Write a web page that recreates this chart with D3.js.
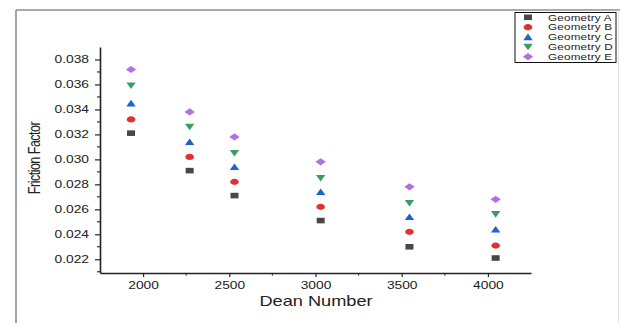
<!DOCTYPE html>
<html>
<head>
<meta charset="utf-8">
<script src="https://cdn.jsdelivr.net/npm/d3@7"></script>
<style>
  body { margin: 0; background: #fff; }
  svg { display: block; }
</style>
</head>
<body>
<svg id="chart" width="620" height="323"></svg>
<script>
// Friction factor against Dean number for five coil geometries
const deanNumbers = [1930, 2270, 2530, 3030, 3545, 4045];
const geometryA = [0.0321, 0.0291, 0.0271, 0.0251, 0.0230, 0.0221];
const geometryB = [0.0332, 0.0302, 0.0282, 0.0262, 0.0242, 0.0231];
const geometryC = [0.0345, 0.0314, 0.0294, 0.0274, 0.0254, 0.0244];
const geometryD = [0.0359, 0.0326, 0.0305, 0.0285, 0.0265, 0.0256];
const geometryE = [0.0372, 0.0338, 0.0318, 0.0298, 0.0278, 0.0268];
const seriesNames = ["Geometry A", "Geometry B", "Geometry C", "Geometry D", "Geometry E"];
const xTicks = [2000, 2500, 3000, 3500, 4000];
const xMinorTicks = [2250, 2750, 3250, 3750];
const yTicks = [0.022, 0.024, 0.026, 0.028, 0.030, 0.032, 0.034, 0.036, 0.038];
const yMinorTicks = [0.021, 0.023, 0.025, 0.027, 0.029, 0.031, 0.033, 0.035, 0.037];

const seriesValues = [geometryA, geometryB, geometryC, geometryD, geometryE];
const colors = ["#474747", "#e3302f", "#1d63cf", "#3a9e63", "#b172df"];
const shapes = ["square", "circle", "triangleUp", "triangleDown", "diamond"];

const FONT = "'Liberation Sans', Arial, sans-serif";
const SX = 1.3;             // horizontal widening applied to all lettering
const INK = "#222";

const svg = d3.select("#chart");
svg.append("rect").attr("width", 620).attr("height", 323).attr("fill", "#fff");

// page frame
svg.append("line").attr("x1", 16).attr("x2", 620).attr("y1", 10).attr("y2", 10)
  .attr("stroke", "#8e8e8e").attr("stroke-width", 1.6);
svg.append("line").attr("x1", 16).attr("x2", 16).attr("y1", 10).attr("y2", 323)
  .attr("stroke", "#8e8e8e").attr("stroke-width", 1.6);
svg.append("line").attr("x1", 618.5).attr("x2", 618.5).attr("y1", 10).attr("y2", 323)
  .attr("stroke", "#e2e2e2").attr("stroke-width", 1);

const x = d3.scaleLinear().domain([1750, 4250]).range([100, 531]);
const y = d3.scaleLinear().domain([0.0209, 0.039]).range([273, 47]);

// marker outlines, centred on the origin
function markerPath(shape) {
  const p = d3.path();
  if (shape === "square") {
    p.rect(-4, -2.8, 8, 5.6);
  } else if (shape === "circle") {
    const rx = 4.3, ry = 3.1;
    const k = 0.5523;
    p.moveTo(rx, 0);
    p.bezierCurveTo(rx, ry * k, rx * k, ry, 0, ry);
    p.bezierCurveTo(-rx * k, ry, -rx, ry * k, -rx, 0);
    p.bezierCurveTo(-rx, -ry * k, -rx * k, -ry, 0, -ry);
    p.bezierCurveTo(rx * k, -ry, rx, -ry * k, rx, 0);
  } else if (shape === "triangleUp") {
    p.moveTo(0, -3.4); p.lineTo(4.7, 3.2); p.lineTo(-4.7, 3.2);
  } else if (shape === "triangleDown") {
    p.moveTo(0, 3.4); p.lineTo(4.7, -3.2); p.lineTo(-4.7, -3.2);
  } else {
    p.moveTo(0, -3.6); p.lineTo(5.2, 0); p.lineTo(0, 3.6); p.lineTo(-5.2, 0);
  }
  p.closePath();
  return p.toString();
}

// axes
const xAxis = d3.axisBottom(x).tickValues(xTicks).tickFormat(d3.format("d"))
  .tickSizeInner(4).tickSizeOuter(0).tickPadding(4);
const yAxis = d3.axisLeft(y).tickValues(yTicks).tickFormat(d3.format(".3f"))
  .tickSizeInner(5).tickSizeOuter(0).tickPadding(6);

const gx = svg.append("g").attr("transform", "translate(0,273)").call(xAxis);
const gy = svg.append("g").attr("transform", "translate(100,0)").call(yAxis);

[gx, gy].forEach(g => {
  g.select(".domain").attr("stroke", INK).attr("stroke-width", 1.6);
  g.selectAll(".tick line").attr("stroke", INK).attr("stroke-width", 1.2);
  g.selectAll(".tick text").attr("fill", INK).attr("font-family", FONT).attr("font-size", 10.6);
});
gx.selectAll(".tick text").attr("transform", `scale(${SX},1)`);
gy.selectAll(".tick text")
  .attr("x", function () { return +d3.select(this).attr("x") / SX; })
  .attr("transform", `scale(${SX},1)`);

// minor ticks
svg.append("g").selectAll("line").data(xMinorTicks).join("line")
  .attr("x1", d => x(d)).attr("x2", d => x(d))
  .attr("y1", 273).attr("y2", 275.5)
  .attr("stroke", INK).attr("stroke-width", 1.1);
svg.append("g").selectAll("line").data(yMinorTicks).join("line")
  .attr("x1", 97).attr("x2", 100)
  .attr("y1", d => y(d)).attr("y2", d => y(d))
  .attr("stroke", INK).attr("stroke-width", 1.1);

// axis titles
svg.append("text")
  .attr("transform", `translate(316,306) scale(${SX},1)`)
  .attr("text-anchor", "middle")
  .attr("font-family", FONT).attr("font-size", 14).attr("fill", INK)
  .text("Dean Number");
svg.append("text")
  .attr("transform", `translate(40,158) scale(${SX},1) rotate(-90)`)
  .attr("text-anchor", "middle")
  .attr("font-family", FONT).attr("font-size", 12.5).attr("letter-spacing", -0.5).attr("fill", INK)
  .text("Friction Factor");

// data markers
seriesValues.forEach((vals, i) => {
  svg.append("g").selectAll("path")
    .data(vals.map((v, j) => ({ d: deanNumbers[j], v })))
    .join("path")
    .attr("d", markerPath(shapes[i]))
    .attr("transform", p => `translate(${x(p.d)},${y(p.v)})`)
    .attr("fill", colors[i]);
});

// legend
const legend = svg.append("g");
legend.append("rect")
  .attr("x", 515).attr("y", 12.5).attr("width", 101).attr("height", 50)
  .attr("fill", "#fff").attr("stroke", "#111").attr("stroke-width", 1);
seriesNames.forEach((name, i) => {
  const cy = 17.3 + i * 9.85;
  legend.append("path")
    .attr("d", markerPath(shapes[i]))
    .attr("transform", `translate(528,${cy})`)
    .attr("fill", colors[i]);
  legend.append("text")
    .attr("transform", `translate(548,${cy + 3.2}) scale(${SX},1)`)
    .attr("font-family", FONT).attr("font-size", 9).attr("letter-spacing", 0.15).attr("fill", INK)
    .text(name);
});
</script>
</body>
</html>
